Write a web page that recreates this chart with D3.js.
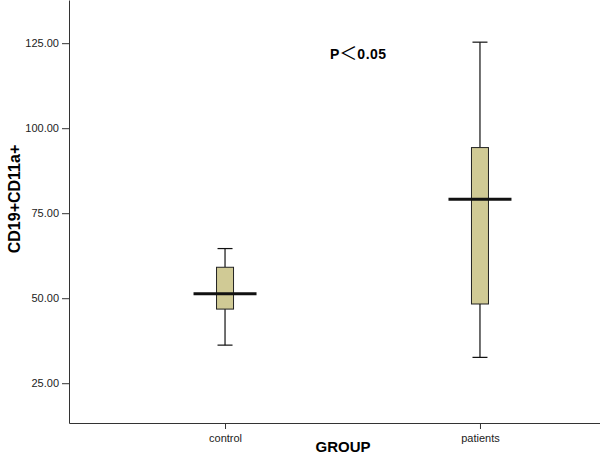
<!DOCTYPE html>
<html lang="en">
<head>
  <meta charset="UTF-8">
  <title>CD19+CD11a+ by group</title>
  <script src="https://d3js.org/d3.v7.min.js"></script>
  <style>
    body { margin: 0; background: #fff; }
    svg { display: block; font-family: Arial, "Liberation Sans", sans-serif; }
    .axis path, .axis line { stroke: #333; }
    .axis text { fill: #222; font-size: 11px; }
    .whisker, .cap { stroke: #111; stroke-width: 1.2; }
    .box { fill: #d0ca95; stroke: #222; stroke-width: 1; }
    .median { stroke: #111; stroke-width: 3; }
  </style>
</head>
<body>
  <svg width="600" height="459"></svg>
  <script>
    // values
    const groups = ['control', 'patients'];
    const mins = [36.2, 32.6];
    const q1s = [46.8, 48.3];
    const medians = [51.3, 79.1];
    const q3s = [59.1, 94.3];
    const maxs = [64.6, 125.3];
    const yTicks = [25, 50, 75, 100, 125];

    const svg = d3.select('svg');
    const left = 69, bottom = 423;

    const y = d3.scaleLinear().domain([13.3, 137.7]).range([bottom, 0]);
    const x = d3.scalePoint().domain(groups).range([left, 636]).padding(0.612);

    const boxW = 17, medW = 63, capW = 15;

    const data = groups.map((g, i) => ({
      group: g, min: mins[i], q1: q1s[i], med: medians[i], q3: q3s[i], max: maxs[i]
    }));

    svg.append('g')
      .attr('class', 'axis')
      .attr('transform', `translate(${left},0)`)
      .call(d3.axisLeft(y).tickValues(yTicks).tickSize(7).tickSizeOuter(0).tickFormat(d3.format('.2f')));

    svg.append('g')
      .attr('class', 'axis')
      .attr('transform', `translate(0,${bottom})`)
      .call(d3.axisBottom(x).tickSize(6).tickSizeOuter(0).tickPadding(5));

    const b = svg.selectAll('.bx').data(data).enter().append('g').attr('class', 'bx');

    b.append('line').attr('class', 'whisker')
      .attr('x1', d => x(d.group)).attr('x2', d => x(d.group))
      .attr('y1', d => y(d.max)).attr('y2', d => y(d.q3));
    b.append('line').attr('class', 'whisker')
      .attr('x1', d => x(d.group)).attr('x2', d => x(d.group))
      .attr('y1', d => y(d.q1)).attr('y2', d => y(d.min));
    b.selectAll('.cap').data(d => [[d.group, d.max], [d.group, d.min]]).enter().append('line')
      .attr('class', 'cap')
      .attr('x1', d => x(d[0]) - capW / 2).attr('x2', d => x(d[0]) + capW / 2)
      .attr('y1', d => y(d[1])).attr('y2', d => y(d[1]));
    b.append('rect').attr('class', 'box')
      .attr('x', d => x(d.group) - boxW / 2).attr('width', boxW)
      .attr('y', d => y(d.q3)).attr('height', d => y(d.q1) - y(d.q3));
    b.append('line').attr('class', 'median')
      .attr('x1', d => x(d.group) - medW / 2).attr('x2', d => x(d.group) + medW / 2)
      .attr('y1', d => y(d.med)).attr('y2', d => y(d.med));

    // axis titles
    svg.append('text')
      .attr('transform', 'translate(20,199) rotate(-90)')
      .attr('text-anchor', 'middle')
      .style('font-size', '16px').style('font-weight', 'bold')
      .text('CD19+CD11a+');

    svg.append('text')
      .attr('x', 343).attr('y', 452)
      .attr('text-anchor', 'middle')
      .style('font-size', '15px').style('font-weight', 'bold')
      .text('GROUP');

    const p = svg.append('text')
      .attr('x', 330).attr('y', 59)
      .style('font-weight', 'bold');
    p.append('tspan').style('font-size', '14px').text('P');
    p.append('tspan')
      .style('font-family', '"Noto Sans CJK SC", sans-serif')
      .style('font-weight', 'normal').style('font-size', '18px')
      .attr('dy', 1)
      .text('＜');
    p.append('tspan').style('font-size', '14px').style('letter-spacing', '0.5px')
      .attr('dy', -1)
      .text('0.05');
  </script>
</body>
</html>
